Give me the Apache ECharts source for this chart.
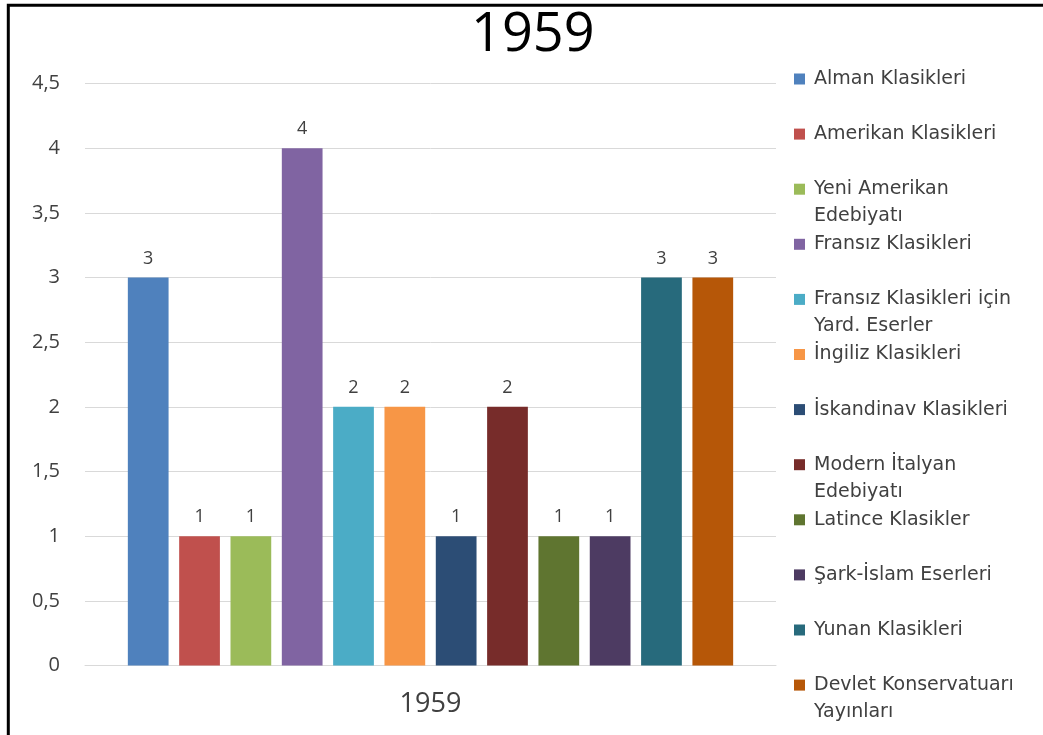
<!DOCTYPE html>
<html>
<head>
<meta charset="utf-8">
<script src="https://cdn.jsdelivr.net/npm/echarts@6/dist/echarts.min.js"></script>
<style>html,body{margin:0;padding:0;background:#fff;}#c{width:1043px;height:735px;}</style>
</head>
<body>
<div id="c"></div>
<script>
const categories = ['1959'];
const seriesNames = [
  'Alman Klasikleri',
  'Amerikan Klasikleri',
  'Yeni Amerikan Edebiyatı',
  'Fransız Klasikleri',
  'Fransız Klasikleri için Yard. Eserler',
  'İngiliz Klasikleri',
  'İskandinav Klasikleri',
  'Modern İtalyan Edebiyatı',
  'Latince Klasikler',
  'Şark-İslam Eserleri',
  'Yunan Klasikleri',
  'Devlet Konservatuarı Yayınları'
];
const legendLabels = [
  'Alman Klasikleri',
  'Amerikan Klasikleri',
  'Yeni Amerikan\nEdebiyatı',
  'Fransız Klasikleri',
  'Fransız Klasikleri için\nYard. Eserler',
  'İngiliz Klasikleri',
  'İskandinav Klasikleri',
  'Modern İtalyan\nEdebiyatı',
  'Latince Klasikler',
  'Şark-İslam Eserleri',
  'Yunan Klasikleri',
  'Devlet Konservatuarı\nYayınları'
];
const values = [3, 1, 1, 4, 2, 2, 1, 2, 1, 1, 3, 3];
const colors = ['#4F81BD', '#C0504D', '#9BBB59', '#8064A2', '#4BACC6', '#F79646',
                '#2C4D75', '#772C2A', '#5F7530', '#4D3B62', '#276A7C', '#B65708'];
const yMin = 0, yMax = 4.5, yStep = 0.5;
const titleText = '1959';

const chart = echarts.init(document.getElementById('c'), null, {renderer: 'canvas'});

const legendFirstCenter = 78.5;
const legendSpacing = 55.1;
const legendFont = 19;
const legends = seriesNames.map((name, i) => {
  const label = legendLabels[i];
  const twoLine = label.indexOf('\n') >= 0;
  const center = legendFirstCenter + i * legendSpacing;
  return {
    data: [name],
    orient: 'vertical',
    left: 794,
    top: center - 13 - (twoLine ? 27 : 0),
    padding: 0,
    itemWidth: 11,
    itemHeight: 11,
    icon: 'rect',
    selectedMode: false,
    formatter: () => (twoLine ? '\n' : '') + label,
    textStyle: {
      fontFamily: 'DejaVu Sans',
      fontSize: legendFont,
      lineHeight: 27,
      color: '#404040',
      padding: [0, 0, 0, 4]
    }
  };
});

const option = {
  backgroundColor: '#fff',
  animation: false,
  title: {
    text: titleText,
    left: 471,
    top: 9,
    padding: 0,
    textStyle: {fontFamily: 'Open Sans', fontSize: 54, fontWeight: 'normal', color: '#000'}
  },
  legend: legends,
  grid: {left: 85, right: 267, top: 83.5, bottom: 69.5, containLabel: false},
  xAxis: {
    type: 'category',
    data: categories,
    axisTick: {show: false},
    axisLine: {lineStyle: {color: '#d9d9d9', width: 1}},
    axisLabel: {fontFamily: 'Open Sans', fontSize: 27, color: '#404040', margin: 25}
  },
  yAxis: {
    type: 'value',
    min: yMin,
    max: yMax,
    interval: yStep,
    axisLine: {show: false},
    axisTick: {show: false},
    splitLine: {lineStyle: {color: '#d9d9d9', width: 1}},
    axisLabel: {
      fontFamily: 'Open Sans', fontSize: 20, color: '#404040', margin: 25,
      formatter: v => String(v).replace('.', ',')
    }
  },
  series: seriesNames.map((name, i) => ({
    name: name,
    type: 'bar',
    data: [values[i]],
    itemStyle: {color: colors[i]},
    barGap: '26%',
    barCategoryGap: '12.4%',
    label: {
      show: true,
      position: 'top',
      distance: 10,
      fontFamily: 'Open Sans',
      fontSize: 18,
      color: '#404040'
    }
  })),
  graphic: [{
    type: 'rect',
    shape: {x: 8.3, y: 5.3, width: 2000, height: 2000},
    style: {fill: 'none', stroke: '#000', lineWidth: 3},
    silent: true
  }]
};
chart.setOption(option);
</script>
</body>
</html>
